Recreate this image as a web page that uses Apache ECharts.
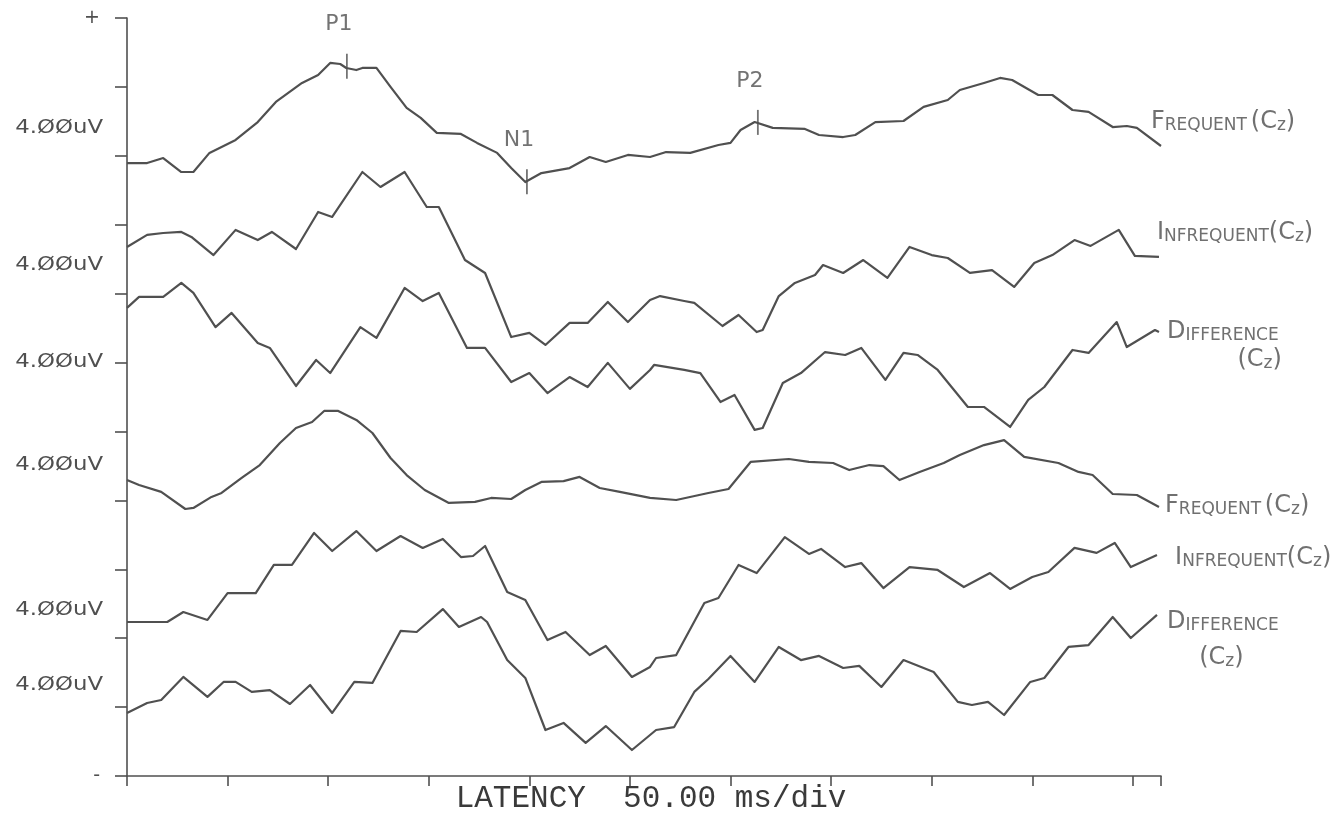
<!DOCTYPE html>
<html><head><meta charset="utf-8">
<script src="https://cdn.jsdelivr.net/npm/echarts@6/dist/echarts.min.js"></script>
<style>html,body{margin:0;padding:0;background:#fff}#c{width:1344px;height:823px}</style>
</head><body><div id="c"></div>
<script>
// latency in ms, amplitude in display µV (4 µV per division, traces stacked)
const frequentTop = [[0,35.58],[10,35.58],[18,35.87],[27,35.06],[33,35.06],[41,36.17],[54,36.92],[65,37.96],[74,39.13],[87,40.23],[95,40.69],[101,41.39],[106,41.33],[109,41.10],[114,40.98],[117,41.10],[124,41.10],[131,40.00],[139,38.78],[146,38.20],[154,37.33],[166,37.27],[174,36.75],[184,36.17],[191,35.29],[198,34.48],[206,35.00],[220,35.29],[230,35.93],[238,35.64],[249,36.05],[260,35.93],[268,36.22],[280,36.17],[294,36.63],[300,36.75],[305,37.50],[312,37.96],[321,37.62],[337,37.56],[344,37.21],[356,37.09],[362,37.21],[372,37.96],[386,38.02],[396,38.84],[408,39.24],[414,39.82],[426,40.23],[434,40.52],[440,40.40],[453,39.53],[460,39.53],[470,38.66],[478,38.55],[490,37.67],[497,37.73],[502,37.62],[514,36.57]];
const infrequentTop = [[0,30.71],[10,31.41],[18,31.52],[27,31.58],[32,31.29],[43,30.24],[54,31.70],[65,31.11],[72,31.58],[84,30.59],[95,32.74],[102,32.45],[117,35.06],[126,34.19],[138,35.06],[149,33.03],[155,33.03],[168,29.95],[178,29.20],[191,25.48],[200,25.72],[208,25.02],[220,26.30],[229,26.30],[239,27.52],[249,26.35],[260,27.63],[265,27.86],[277,27.57],[282,27.46],[296,26.12],[304,26.76],[313,25.77],[316,25.89],[324,27.86],[332,28.62],[342,29.08],[346,29.66],[356,29.20],[366,29.95],[378,28.91],[389,30.71],[400,30.24],[408,30.07],[419,29.20],[430,29.37],[441,28.39],[451,29.78],[460,30.24],[471,31.11],[479,30.77],[493,31.70],[501,30.19],[513,30.13]];
const differenceTop = [[0,27.17],[6,27.81],[18,27.81],[27,28.62],[33,28.04],[44,26.06],[52,26.88],[65,25.14],[71,24.85],[84,22.64],[94,24.15],[101,23.39],[116,26.06],[124,25.43],[138,28.33],[147,27.57],[155,28.04],[169,24.85],[178,24.85],[191,22.87],[200,23.39],[209,22.23],[220,23.16],[229,22.58],[239,23.98],[250,22.47],[260,23.57],[262,23.86],[277,23.57],[285,23.39],[295,21.71],[302,22.12],[312,20.09],[316,20.20],[326,22.81],[335,23.39],[347,24.61],[357,24.44],[365,24.85],[377,22.99],[386,24.56],[393,24.44],[403,23.57],[418,21.42],[426,21.42],[439,20.26],[448,21.83],[456,22.58],[470,24.73],[478,24.56],[492,26.35],[497,24.90],[511,25.89],[513,25.77]];
const frequentBottom = [[0,17.18],[6,16.89],[17,16.49],[29,15.50],[33,15.56],[42,16.20],[47,16.43],[57,17.30],[66,18.05],[76,19.33],[84,20.20],[92,20.55],[98,21.19],[105,21.19],[114,20.67],[122,19.91],[131,18.46],[139,17.47],[148,16.60],[160,15.85],[173,15.91],[181,16.14],[191,16.08],[198,16.60],[206,17.07],[217,17.12],[225,17.36],[235,16.72],[245,16.49],[260,16.14],[273,16.02],[289,16.43],[299,16.66],[310,18.23],[329,18.40],[339,18.23],[351,18.17],[359,17.76],[369,18.05],[376,17.99],[384,17.18],[394,17.65],[406,18.17],[414,18.63],[426,19.21],[436,19.50],[446,18.52],[463,18.17],[473,17.65],[480,17.47],[490,16.37],[502,16.31],[513,15.62]];
const infrequentBottom = [[0,8.94],[20,8.94],[28,9.52],[40,9.06],[50,10.62],[64,10.62],[73,12.25],[82,12.25],[93,14.11],[102,13.06],[114,14.22],[124,13.06],[136,13.93],[147,13.24],[157,13.76],[166,12.71],[172,12.77],[178,13.35],[189,10.68],[198,10.22],[209,7.89],[218,8.36],[230,7.02],[238,7.55],[251,5.75],[260,6.33],[263,6.85],[273,7.02],[287,10.04],[294,10.33],[304,12.25],[313,11.78],[327,13.87],[339,12.89],[345,13.18],[357,12.13],[365,12.36],[376,10.91],[389,12.13],[403,11.96],[416,10.97],[429,11.78],[439,10.86],[450,11.55],[458,11.84],[471,13.24],[482,12.95],[491,13.53],[499,12.13],[512,12.83]];
const differenceBottom = [[0,3.66],[10,4.24],[17,4.41],[28,5.75],[40,4.59],[48,5.46],[54,5.46],[62,4.88],[71,4.99],[81,4.18],[91,5.28],[102,3.66],[113,5.46],[122,5.40],[136,8.42],[144,8.36],[157,9.69],[165,8.65],[176,9.23],[179,8.94],[189,6.73],[198,5.69],[208,2.67],[217,3.08],[228,1.92],[238,2.90],[251,1.51],[260,2.38],[263,2.67],[272,2.84],[282,4.88],[289,5.63],[300,6.97],[312,5.46],[324,7.49],[335,6.73],[344,6.97],[356,6.27],[364,6.39],[375,5.17],[386,6.73],[401,6.04],[413,4.30],[420,4.12],[428,4.30],[436,3.54],[449,5.46],[456,5.69],[468,7.49],[478,7.60],[490,9.23],[499,8.01],[512,9.35]];

const traces = [frequentTop, infrequentTop, differenceTop, frequentBottom, infrequentBottom, differenceBottom];
const traceNames = ['FREQUENT (Cz)', 'INFREQUENT(Cz)', 'DIFFERENCE', 'FREQUENT (Cz)', 'INFREQUENT(Cz)', 'DIFFERENCE'];

// peak markers on the top trace
const peakNames = ['P1', 'N1', 'P2'];
const peakLatency = [109.3, 198.8, 313.6];
const peakLevel = [41.2, 34.5, 37.94];

// amplitude scale labels
const scaleLabels = ['4.ØØuV', '4.ØØuV', '4.ØØuV', '4.ØØuV', '4.ØØuV', '4.ØØuV'];
const scaleLabelLevel = [37.62, 29.66, 24.03, 18.05, 9.64, 5.28];
const scaleLabelLatency = -11.9;

// hand-written trace names on the right (latency, level)
const noteText = ['FREQUENT (Cz)', 'INFREQUENT(Cz)', 'DIFFERENCE', '(Cz)', 'FREQUENT (Cz)', 'INFREQUENT(Cz)', 'DIFFERENCE', '(Cz)'];
const noteLatency = [509, 512, 517, 552, 516, 521, 517, 533];
const noteLevel = [37.96, 31.52, 25.77, 24.15, 15.67, 12.66, 8.94, 6.85];

const axisTitle = 'LATENCY  50.00 ms/div';

const ink = '#505050';
const chart = echarts.init(document.getElementById('c'));
chart.setOption({
  animation: false,
  backgroundColor: '#ffffff',
  grid: { left: 127, right: 183, top: 18, bottom: 47 },
  xAxis: {
    type: 'value', min: 0, max: 514, interval: 50,
    axisLine: { lineStyle: { color: ink, width: 1.6 } },
    axisTick: { length: 10, lineStyle: { color: ink, width: 1.6 } },
    axisLabel: { show: false }, splitLine: { show: false },
    name: axisTitle, nameLocation: 'middle', nameGap: 7,
    nameTextStyle: { fontFamily: 'Liberation Mono', fontSize: 31, color: '#3a3a3a', verticalAlign: 'top', padding: [0, 0, 0, 14] }
  },
  yAxis: {
    type: 'value', min: 0, max: 44, interval: 4,
    axisLine: { show: true, lineStyle: { color: ink, width: 1.6 } },
    axisTick: { show: true, length: 12, lineStyle: { color: ink, width: 1.6 } },
    axisLabel: { margin: 27, showMinLabel: true, showMaxLabel: true,
      formatter: v => v === 44 ? '+' : (v === 0 ? '-' : ''),
      fontFamily: 'DejaVu Sans', fontSize: 19, color: ink },
    splitLine: { show: false }
  },
  series: traces.map((d, i) => ({
    type: 'line', name: traceNames[i], data: d, symbol: 'none', showSymbol: false,
    lineStyle: { color: ink, width: 2.2, join: 'round' }, silent: true
  })).concat([{
    type: 'scatter', name: 'peaks', clip: false,
    data: peakNames.map((n, i) => ({ name: n, value: [peakLatency[i], peakLevel[i]] })),
    symbol: 'rect', symbolSize: [1.8, 25], itemStyle: { color: ink },
    label: { show: true, position: 'top', distance: 18, offset: [-8, 0], formatter: '{b}',
      fontFamily: 'DejaVu Sans', fontSize: 22, color: ink }
  }])
});

function richSmallCaps(t) {
  let out = '', prev = ' ';
  for (const ch of t) {
    const big = ch === '(' || ch === ')' || (/[A-Za-z]/.test(ch) && (prev === ' ' || prev === '('));
    out += ch === ' ' ? ' ' : (big ? '{a|' + ch + '}' : '{b|' + ch + '}');
    prev = ch;
  }
  return out;
}

const noteInk = '#707070';
const graphics = [];
scaleLabels.forEach((t, i) => {
  const p = chart.convertToPixel({ gridIndex: 0 }, [scaleLabelLatency, scaleLabelLevel[i]]);
  graphics.push({ type: 'text', x: p[0], y: p[1], scaleX: 1.2, silent: true,
    style: { text: t, x: 0, y: 0, align: 'right', textAlign: 'right', verticalAlign: 'middle', textVerticalAlign: 'middle',
      font: '19px "DejaVu Sans"', fill: ink } });
});
noteText.forEach((t, i) => {
  const p = chart.convertToPixel({ gridIndex: 0 }, [noteLatency[i], noteLevel[i]]);
  graphics.push({ type: 'text', x: p[0], y: p[1], silent: true,
    style: { text: richSmallCaps(t), x: 0, y: 0, align: 'left', textAlign: 'left', verticalAlign: 'middle', textVerticalAlign: 'middle',
      fill: noteInk, fontFamily: 'DejaVu Sans',
      rich: { a: { fontSize: 24, fontFamily: 'DejaVu Sans', fill: noteInk, color: noteInk, verticalAlign: 'bottom' },
              b: { fontSize: 17, fontFamily: 'DejaVu Sans', fill: noteInk, color: noteInk, verticalAlign: 'bottom' } } } });
});
chart.setOption({ graphic: { elements: graphics } });
</script></body></html>
